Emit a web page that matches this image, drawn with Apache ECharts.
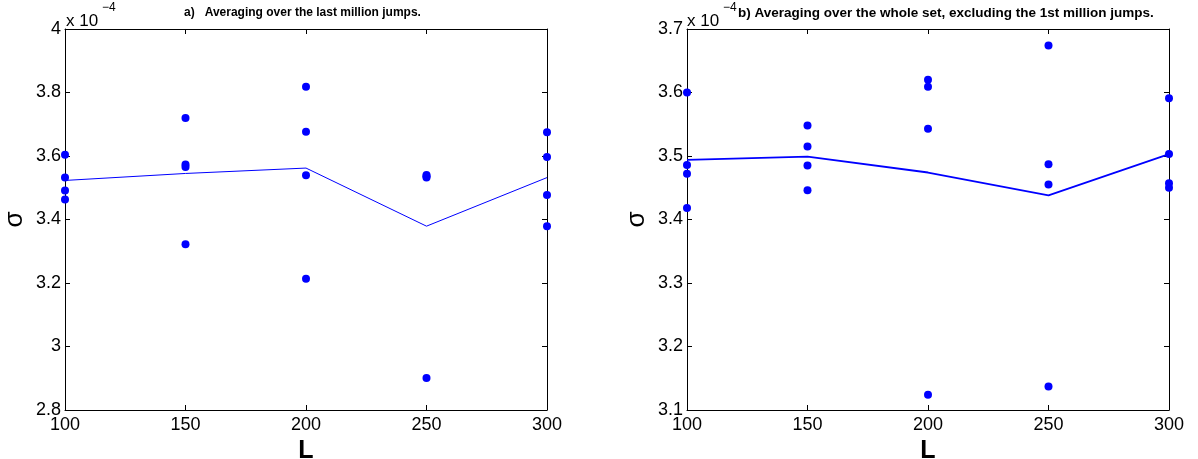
<!DOCTYPE html>
<html>
<head>
<meta charset="utf-8">
<script src="https://cdn.jsdelivr.net/npm/echarts@6/dist/echarts.min.js"></script>
<style>
  html, body { margin: 0; padding: 0; background: #fff; }
  #chart { width: 1198px; height: 459px; }
</style>
</head>
<body>
<div id="chart"></div>
<script>
// sigma values are in units of 1e-4
const L = [100, 150, 200, 250, 300];

// a) last million jumps, four runs per L
const sigmaA = [
  [3.604, 3.532, 3.491, 3.463],
  [3.720, 3.573, 3.565, 3.322],
  [3.818, 3.676, 3.539, 3.213],
  [3.540, 3.536, 3.532, 2.901],
  [3.675, 3.597, 3.477, 3.379]
];
const meanA = [3.523, 3.545, 3.562, 3.379, 3.532];

// b) whole set minus the first million jumps
const sigmaB = [
  [3.600, 3.486, 3.472, 3.418],
  [3.548, 3.515, 3.485, 3.446],
  [3.620, 3.609, 3.543, 3.124],
  [3.674, 3.487, 3.455, 3.137],
  [3.591, 3.503, 3.457, 3.450]
];
const meanB = [3.494, 3.499, 3.474, 3.438, 3.503];

const titleA = 'a)   Averaging over the last million jumps.';
const titleB = 'b) Averaging over the whole set, excluding the 1st million jumps.';

const FONT = '"Liberation Sans", Arial, sans-serif';
const BLUE = '#0000ff';

function points(vals) {
  const out = [];
  vals.forEach((row, i) => row.forEach(v => out.push([L[i], v])));
  return out;
}

function xAxes(gi) {
  const base = {
    type: 'value', gridIndex: gi, min: 100, max: 300, interval: 50,
    axisLine: { lineStyle: { color: '#000', width: 1 } },
    axisTick: { inside: true, length: 5, lineStyle: { color: '#000' } },
    splitLine: { show: false }
  };
  return [
    Object.assign({}, base, {
      position: 'bottom',
      axisLabel: { color: '#000', fontSize: 18, fontFamily: FONT, margin: 6 },
      name: 'L', nameLocation: 'middle', nameGap: 19,
      nameTextStyle: { color: '#000', fontSize: 25, fontWeight: 'bold', fontFamily: FONT }
    }),
    Object.assign({}, base, { position: 'top', axisLabel: { show: false } })
  ];
}

function yAxes(gi, min, max, interval) {
  const base = {
    type: 'value', gridIndex: gi, min: min, max: max, interval: interval,
    axisLine: { lineStyle: { color: '#000', width: 1 } },
    axisTick: { inside: true, length: 5, lineStyle: { color: '#000' } },
    splitLine: { show: false }
  };
  return [
    Object.assign({}, base, {
      position: 'left',
      axisLabel: { color: '#000', fontSize: 18, fontFamily: FONT, margin: 4 },
      name: 'σ', nameLocation: 'middle', nameGap: 37,
      nameTextStyle: { color: '#000', fontSize: 26, fontFamily: FONT }
    }),
    Object.assign({}, base, { position: 'right', axisLabel: { show: false } })
  ];
}

const chart = echarts.init(document.getElementById('chart'));

chart.setOption({
  backgroundColor: '#fff',
  animation: false,
  title: [
    { text: titleA, left: 179, top: 2, textStyle: { fontSize: 12, fontWeight: 'bold', fontFamily: FONT, color: '#000' } },
    { text: titleB, left: 733, top: 1, textStyle: { fontSize: 13.5, fontWeight: 'bold', fontFamily: FONT, color: '#000' } }
  ],
  grid: [
    { left: 65, top: 29, width: 482, height: 381, outerBoundsMode: 'none' },
    { left: 687, top: 29, width: 482, height: 381, outerBoundsMode: 'none' }
  ],
  xAxis: [...xAxes(0), ...xAxes(1)],
  yAxis: [...yAxes(0, 2.8, 4, 0.2), ...yAxes(1, 3.1, 3.7, 0.1)],
  graphic: [
    { type: 'text', left: 66, top: 13, style: { text: 'x 10', font: '17px ' + FONT, fill: '#000' } },
    { type: 'text', left: 102, top: 2, style: { text: '−4', font: '12px ' + FONT, fill: '#000' } },
    { type: 'text', left: 687, top: 13, style: { text: 'x 10', font: '17px ' + FONT, fill: '#000' } },
    { type: 'text', left: 723, top: 2, style: { text: '−4', font: '12px ' + FONT, fill: '#000' } }
  ],
  series: [
    {
      type: 'line', xAxisIndex: 0, yAxisIndex: 0, data: L.map((x, i) => [x, meanA[i]]),
      symbol: 'none', lineStyle: { color: BLUE, width: 1 }, clip: false
    },
    {
      type: 'scatter', xAxisIndex: 0, yAxisIndex: 0, data: points(sigmaA),
      symbolSize: 8, itemStyle: { color: BLUE, opacity: 1 }, clip: false
    },
    {
      type: 'line', xAxisIndex: 2, yAxisIndex: 2, data: L.map((x, i) => [x, meanB[i]]),
      symbol: 'none', lineStyle: { color: BLUE, width: 1.8 }, clip: false
    },
    {
      type: 'scatter', xAxisIndex: 2, yAxisIndex: 2, data: points(sigmaB),
      symbolSize: 8, itemStyle: { color: BLUE, opacity: 1 }, clip: false
    }
  ]
});
</script>
</body>
</html>
